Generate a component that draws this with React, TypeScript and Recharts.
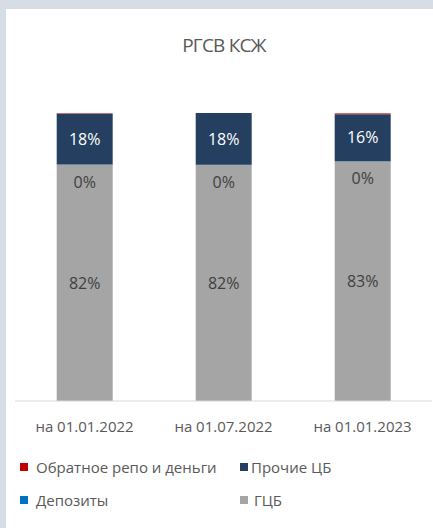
import React from 'react'
import { BarChart, Bar, XAxis, YAxis, LabelList } from 'recharts'

const categories = ['на 01.01.2022', 'на 01.07.2022', 'на 01.01.2023']
const gcbValues = [82.1, 82.0, 83.2]
const depositValues = [0.05, 0.05, 0.05]
const otherSecValues = [17.6, 18.0, 16.4]
const repoValues = [0.3, 0, 0.4]

const seriesNames = {
  repo: 'Обратное репо и деньги',
  other: 'Прочие ЦБ',
  deposits: 'Депозиты',
  gcb: 'ГЦБ',
}

const colors = {
  repo: '#c00000',
  other: '#243f60',
  deposits: '#0070c0',
  gcb: '#a5a5a5',
}

const legendRows = [
  ['repo', 'other'],
  ['deposits', 'gcb'],
] as const

// gap between legend swatch and its text
const legendGap: Record<string, number> = { repo: 8, other: 3, deposits: 8, gcb: 6 }

const data = categories.map((c, i) => ({
  name: c,
  gcb: gcbValues[i],
  deposits: depositValues[i],
  other: otherSecValues[i],
  repo: repoValues[i],
}))

const FONT = '"Open Sans", sans-serif'
const pct = (v: any) => `${Math.round(Number(v))}%`

const ZeroLabel = (props: any) => {
  const { x, y, width, height, value } = props
  return (
    <text x={x + width / 2} y={y + height / 2 + 17} textAnchor="middle" dominantBaseline="central"
      fill="#404040" fontSize={16} fontFamily={FONT}>
      {pct(value)}
    </text>
  )
}

export default function App() {
  return (
    <div style={{ position: 'absolute', left: 0, top: 0, width: 433, height: 528, background: '#d6dde5', overflow: 'hidden', fontFamily: FONT }}>
      <div style={{ position: 'absolute', left: 6, top: 9, width: 427, height: 519, background: '#fff' }}>
        <div style={{ position: 'absolute', left: 0, width: 436, top: 23, textAlign: 'center', fontSize: 19, color: '#595959', letterSpacing: -0.8 }}>
          РГСВ КСЖ
        </div>
        <BarChart width={427} height={519} data={data} barCategoryGap="30%"
          margin={{ top: 104, right: 1, left: 9, bottom: 97 }}>
          <XAxis dataKey="name" height={30} axisLine={{ stroke: '#d9d9d9' }} tickLine={false}
            tickMargin={14} tick={{ fill: '#595959', fontSize: 15, fontFamily: FONT }} />
          <YAxis hide domain={[0, 100]} />
          <Bar dataKey="gcb" stackId="a" fill={colors.gcb} isAnimationActive={false}>
            <LabelList dataKey="gcb" position="center" formatter={pct} fill="#404040" fontSize={16} fontFamily={FONT} />
          </Bar>
          <Bar dataKey="deposits" stackId="a" fill={colors.deposits} isAnimationActive={false}>
            <LabelList dataKey="deposits" content={<ZeroLabel />} />
          </Bar>
          <Bar dataKey="other" stackId="a" fill={colors.other} isAnimationActive={false}>
            <LabelList dataKey="other" position="center" formatter={pct} fill="#ffffff" fontSize={16} fontFamily={FONT} />
          </Bar>
          <Bar dataKey="repo" stackId="a" fill={colors.repo} fillOpacity={0.6} isAnimationActive={false} />
        </BarChart>
        {legendRows.map((row, ri) => (
          <div key={ri} style={{ position: 'absolute', top: 449 + ri * 33, left: 14, height: 18, width: 400 }}>
            {row.map((k, ci) => (
              <div key={k} style={{ position: 'absolute', left: ci * 220, top: 0, display: 'flex', alignItems: 'center', height: 18 }}>
                <span style={{ width: 8, height: 8, background: colors[k], display: 'inline-block', marginRight: legendGap[k] }} />
                <span style={{ fontSize: 15, color: '#595959', whiteSpace: 'nowrap' }}>{seriesNames[k]}</span>
              </div>
            ))}
          </div>
        ))}
      </div>
    </div>
  )
}
